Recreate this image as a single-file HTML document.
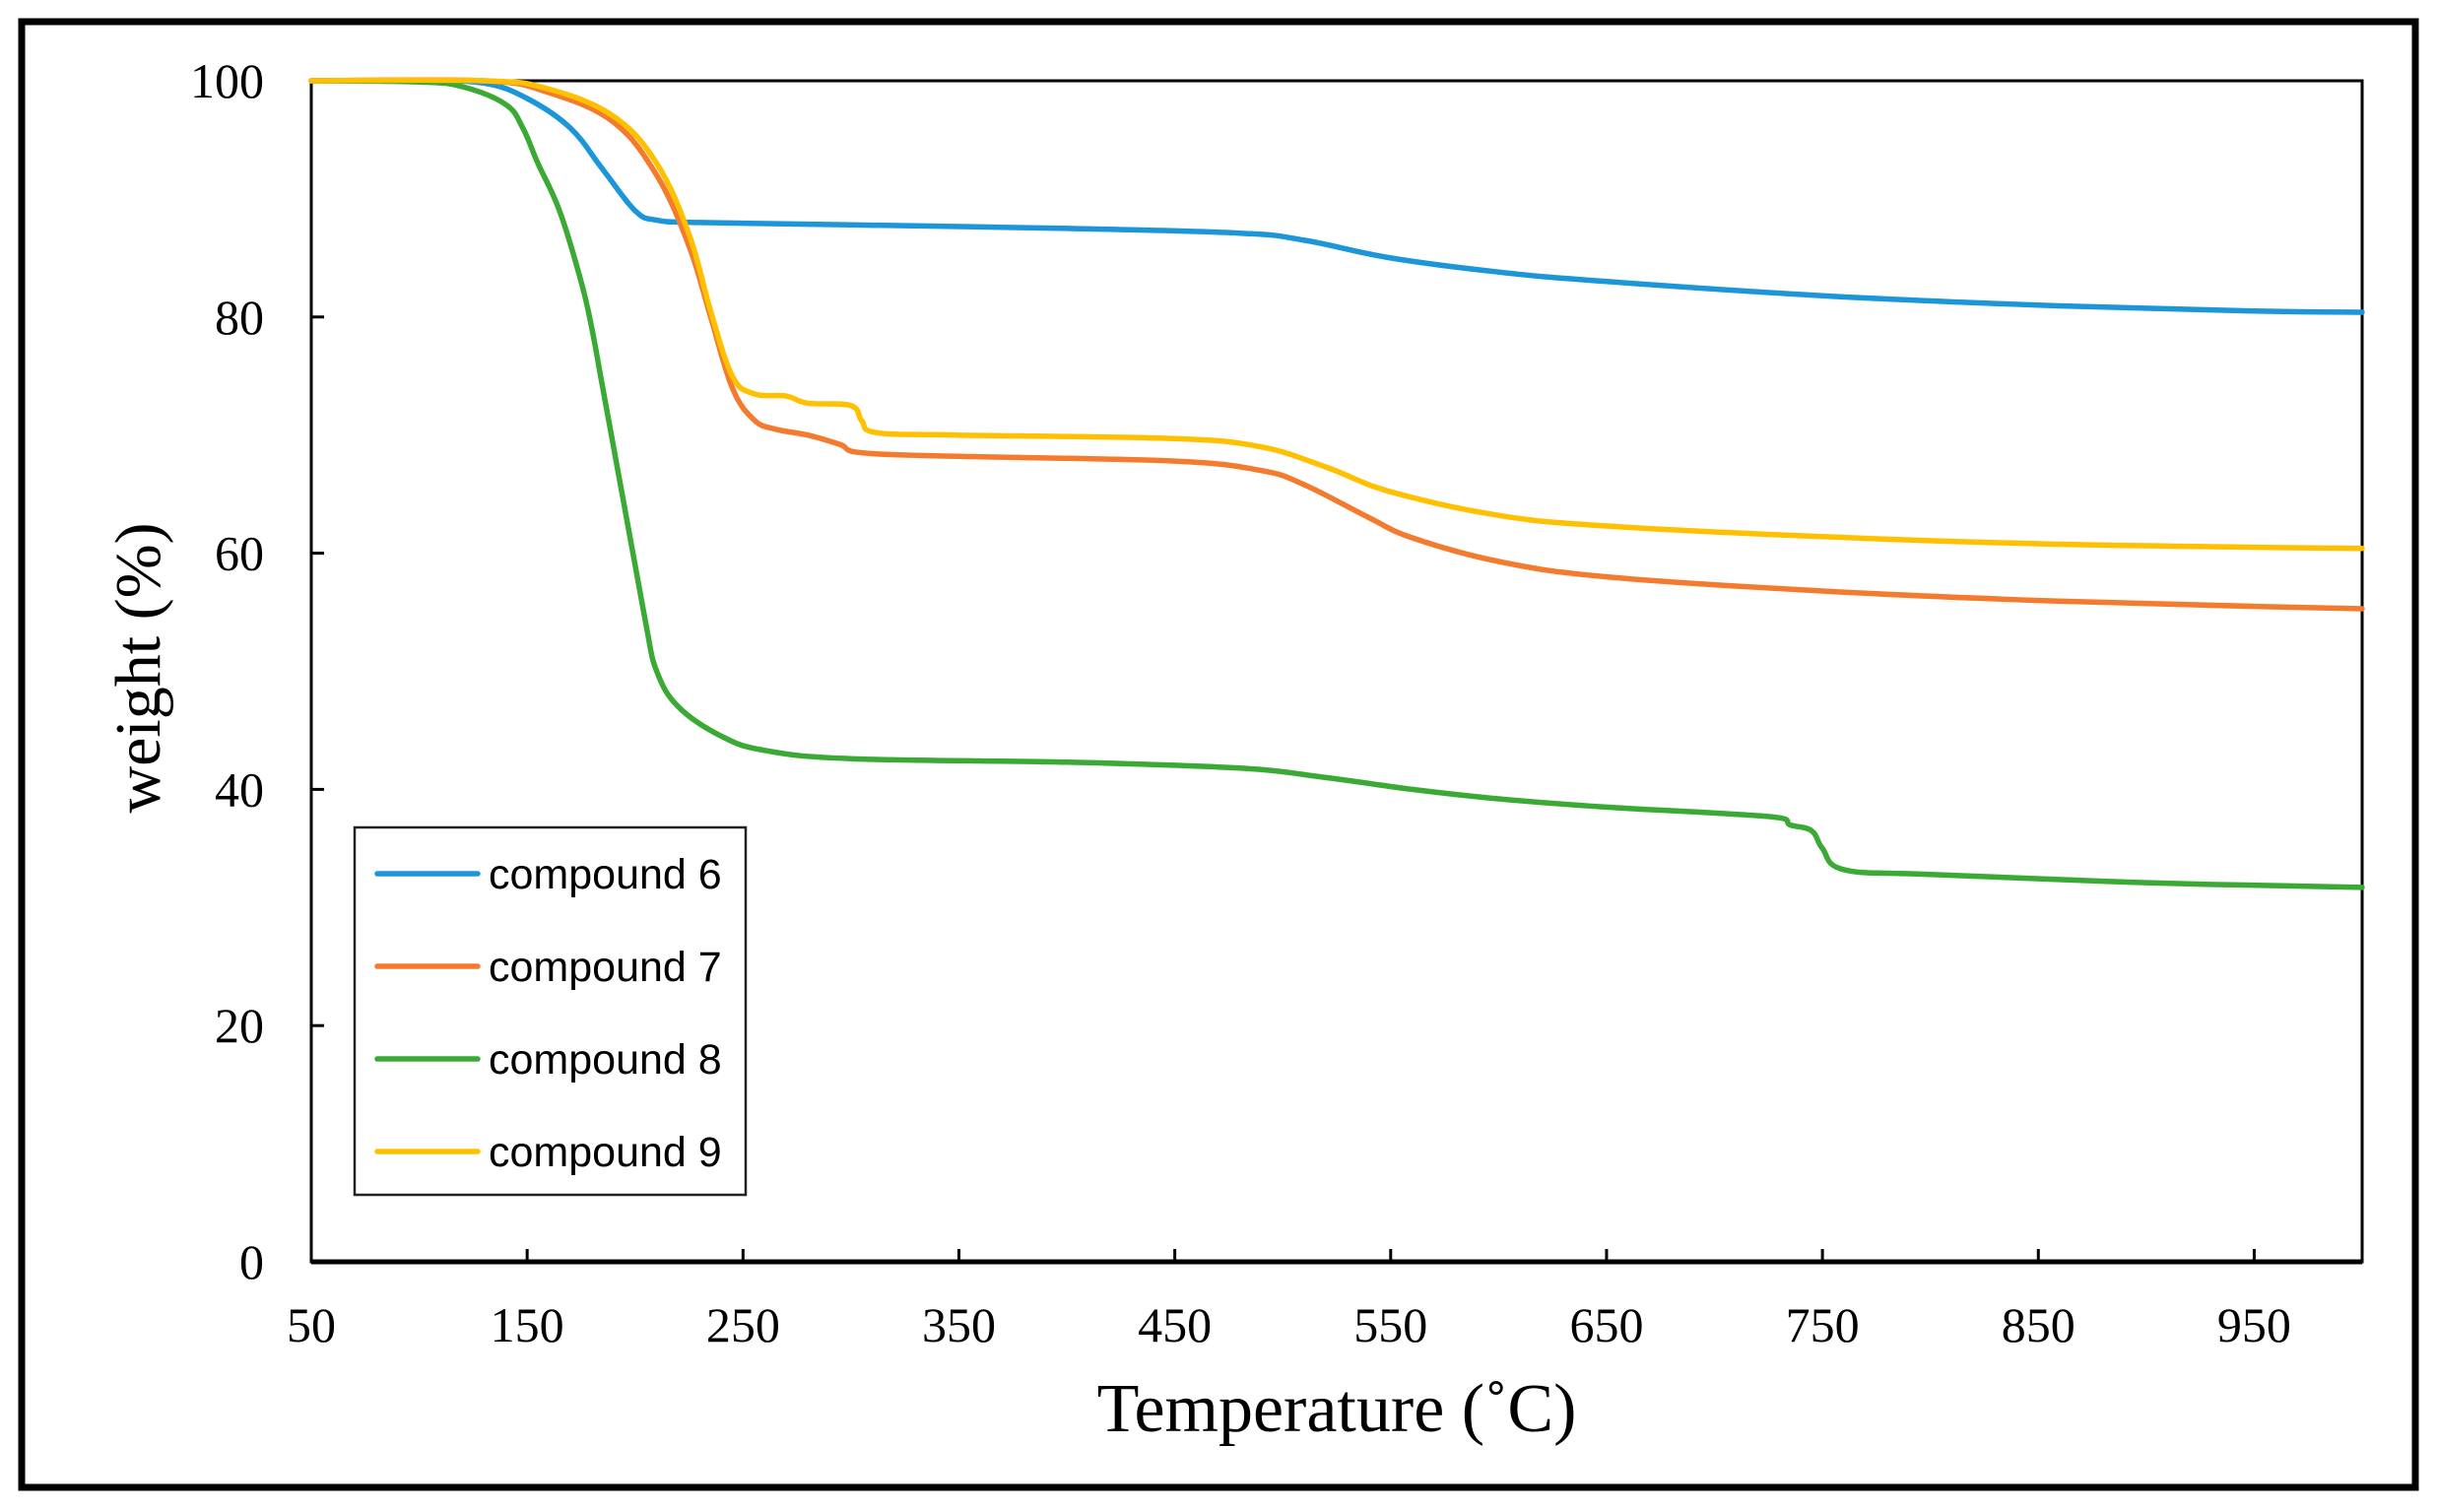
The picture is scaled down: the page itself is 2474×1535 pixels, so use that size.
<!DOCTYPE html>
<html><head><meta charset="utf-8"><style>
html,body{margin:0;padding:0;background:#fff;}
svg{display:block;}
</style></head><body>
<svg id="chart" width="2474" height="1535" viewBox="0 0 2474 1535" xmlns="http://www.w3.org/2000/svg">
<rect x="22" y="22" width="2430" height="1488" fill="#fff" stroke="#000" stroke-width="7"/>
<g id="axes"></g>
<g id="series"></g>
<g>
<rect x="360" y="840" width="397" height="373" fill="#fff" stroke="#222" stroke-width="2.5"/>
<g id="legend-items"></g>
</g>
<text x="1357" y="1453" text-anchor="middle" font-family="Liberation Serif, serif" font-size="70">Temperature (˚C)</text>
<text transform="translate(162,678) rotate(-90)" text-anchor="middle" font-family="Liberation Serif, serif" font-size="66">weight (%)</text>
</svg>
<script>
const xTicks=[50,150,250,350,450,550,650,750,850,950];
const yTicks=[0,20,40,60,80,100];
const names=["compound 6","compound 7","compound 8","compound 9"];
const colors=["#1b96d8","#f47a2e","#3aaa35","#ffc000"];
const t6=[50,100,130,150,170,185,200,210,230,300,400,480,510,550,600,650,750,850,950,1000];
const w6=[100,100,99.8,98.5,96,92.5,89,88.2,88,87.8,87.5,87.1,86.5,85,83.8,83,81.8,81,80.5,80.4];
const t7=[50,130,160,190,210,225,235,245,255,265,280,295,305,350,450,490,510,540,560,600,650,750,850,950,1000];
const w7=[100,100,99,96.5,92,86,80,74,71.3,70.5,70,69.2,68.5,68.2,67.8,67,65.8,63,61.3,59.3,58,56.8,56,55.5,55.3];
const t8=[50,100,120,140,148,155,165,175,180,185,195,205,210,220,240,260,300,400,480,520,560,600,650,700,730,735,745,750,760,800,900,1000];
const w8=[100,99.9,99.5,98,96,93,89,83,79,74,64,54,50,47,44.5,43.3,42.6,42.3,41.8,41,40,39.2,38.5,38,37.6,37,36.5,35,33.2,32.8,32.1,31.7];
const t9=[50,130,160,190,210,225,235,245,255,270,280,300,305,312,350,450,490,520,550,600,650,750,850,950,1000];
const w9=[100,100,99.3,97,93,87,80.5,75,73.5,73.3,72.7,72.5,71.2,70.2,70,69.7,69,67.3,65.2,63.2,62.3,61.4,60.8,60.5,60.4];
const NS="http://www.w3.org/2000/svg";
const X0=316,X1=2398,Y0=1281,Y1=82;
function sx(t){return X0+(t-50)/(1000-50)*(X1-X0);}
function sy(v){return Y0-v/100*(Y0-Y1);}
function mk(tag,attrs,parent){const e=document.createElementNS(NS,tag);for(const k in attrs)e.setAttribute(k,attrs[k]);parent.appendChild(e);return e;}
function smoothPath(P){
 let d='M'+P[0][0].toFixed(1)+','+P[0][1].toFixed(1);
 for(let i=0;i<P.length-1;i++){
  const p0=P[Math.max(0,i-1)],p1=P[i],p2=P[i+1],p3=P[Math.min(P.length-1,i+2)];
  const k=0.18;
  let c1x=p1[0]+(p2[0]-p0[0])*k,c1y=p1[1]+(p2[1]-p0[1])*k;
  let c2x=p2[0]-(p3[0]-p1[0])*k,c2y=p2[1]-(p3[1]-p1[1])*k;
  d+=' C'+c1x.toFixed(1)+','+c1y.toFixed(1)+' '+c2x.toFixed(1)+','+c2y.toFixed(1)+' '+p2[0].toFixed(1)+','+p2[1].toFixed(1);
 }
 return d;
}
const axes=document.getElementById('axes');
let pb=mk('rect',{x:X0,y:Y1,width:X1-X0,height:Y0-Y1,fill:'none',stroke:'#000','stroke-width':3},axes);


let xa=mk('line',{x1:X0,y1:Y0,x2:X1,y2:Y0,stroke:'#000','stroke-width':5},axes);


xTicks.forEach(t=>{
 let l=mk('line',{x1:sx(t),y1:Y0,x2:sx(t),y2:Y0-13,stroke:'#000','stroke-width':3},axes);
 
 
 let tx=mk('text',{x:sx(t),y:1362,'text-anchor':'middle','font-family':'Liberation Serif, serif','font-size':50},axes);
 
 
 tx.textContent=t;
});
yTicks.forEach(v=>{
 let l=mk('line',{x1:X0,y1:sy(v),x2:X0+13,y2:sy(v),stroke:'#000','stroke-width':3},axes);
 
 
 let tx=mk('text',{x:268,y:sy(v)+17,'text-anchor':'end','font-family':'Liberation Serif, serif','font-size':50},axes);
 
 
 tx.textContent=v;
});
const ser=document.getElementById('series');
const T=[t6,t7,t8,t9],W=[w6,w7,w8,w9];
[0,2,1,3].forEach(i=>{
 const P=T[i].map((t,j)=>[sx(t),sy(W[i][j])]);
 let p=mk('path',{d:smoothPath(P),fill:'none',stroke:colors[i],'stroke-width':5.5,'stroke-linejoin':'round','stroke-linecap':'round'},ser);
 
 
});
const lg=document.getElementById('legend-items');
names.forEach((n,i)=>{
 const y=887+i*94;
 let l=mk('line',{x1:383,y1:y,x2:485,y2:y,stroke:colors[i],'stroke-width':5.5,'stroke-linecap':'round'},lg);
 
 
 let tx=mk('text',{x:496,y:y+15,'font-family':'Liberation Sans, sans-serif','font-size':43},lg);
 
 
 tx.textContent=n;
});
</script>
</body></html>
